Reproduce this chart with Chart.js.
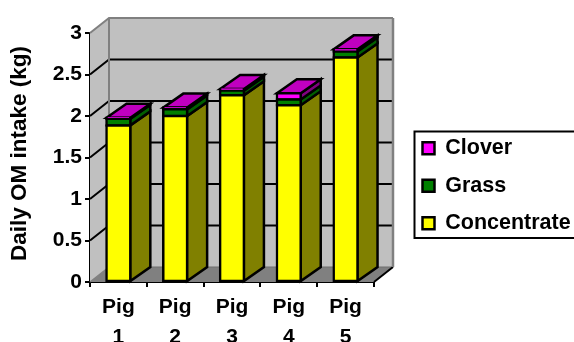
<!DOCTYPE html>
<html><head><meta charset="utf-8">
<style>html,body{margin:0;padding:0;background:#fff;overflow:hidden}#w{width:574px;height:342px}</style>
<script src="https://cdn.jsdelivr.net/npm/chart.js@4"></script></head>
<body><div id="w"><canvas id="c" width="574" height="342"></canvas></div>
<script>
const categories = [['Pig','1'],['Pig','2'],['Pig','3'],['Pig','4'],['Pig','5']];
const concentrate = [1.887, 2.0, 2.25, 2.13, 2.706];
const grass = [0.08, 0.08, 0.055, 0.07, 0.072];
const clover = [0.012, 0.021, 0.02, 0.075, 0.025];
const yTicks = [0, 0.5, 1, 1.5, 2, 2.5, 3];
const depthX = 19, depthY = 15, barDepthX = 20, barDepthY = 14;

const faces = [
  {side:'#808000', top:'#808000'},
  {side:'#005f00', top:'#005f00'},
  {side:'#800080', top:'#c000c0'}
];
function poly(ctx, pts, fill, stroke, lw){
  ctx.beginPath();
  pts.forEach((p,i)=> i ? ctx.lineTo(p[0],p[1]) : ctx.moveTo(p[0],p[1]));
  ctx.closePath();
  if(fill){ctx.fillStyle=fill;ctx.fill();}
  if(stroke){ctx.strokeStyle=stroke;ctx.lineWidth=lw;ctx.lineJoin='miter';ctx.stroke();}
}
function line(ctx, pts, c, lw){
  ctx.beginPath();
  pts.forEach((p,i)=> i ? ctx.lineTo(p[0],p[1]) : ctx.moveTo(p[0],p[1]));
  ctx.strokeStyle=c;ctx.lineWidth=lw;ctx.stroke();
}
const scene = {
  id:'scene',
  afterLayout(chart){
    const l = chart.legend;
    l.left = 406.5; l.right = 574; l.top = 121.5; l.bottom = 300;
    l.width = l.right-l.left; l.height = l.bottom-l.top;
    const s = chart.scales.y;
    if(!s._shifted){
      s._shifted = true;
      const orig = s.drawTitle;
      s.drawTitle = function(){ const c=this.ctx; c.save(); c.translate(0,-4); orig.call(this); c.restore(); };
    }
  },
  beforeDraw(chart){
    const ctx = chart.ctx;
    ctx.save();
    poly(ctx,[[414.5,131.5],[580,131.5],[580,238],[414.5,238]],'#fff','#000',2);
    ctx.restore();
  },
  beforeDatasetsDraw(chart){
    const ctx = chart.ctx, a = chart.chartArea, y = chart.scales.y;
    const L=a.left,R=a.right,T=a.top,B=a.bottom;
    ctx.save();
    poly(ctx,[[L+depthX,T-depthY],[R+depthX,T-depthY],[R+depthX,B-depthY],[L+depthX,B-depthY]],'#c0c0c0');
    poly(ctx,[[L,T],[L+depthX,T-depthY],[L+depthX,B-depthY],[L,B]],'#c0c0c0');
    poly(ctx,[[L,B],[L+depthX,B-depthY],[R+depthX,B-depthY],[R,B]],'#808080');
    yTicks.forEach(v=>{
      const p = y.getPixelForValue(v);
      if(v===0){
        line(ctx,[[L,p],[L+depthX,p-depthY]],'#808080',1.5);
        line(ctx,[[L+depthX,p-depthY],[R+depthX,p-depthY]],'#6e6e6e',1);
        line(ctx,[[R,p],[R+depthX,p-depthY]],'#000',2);
      } else if(v===3){
        line(ctx,[[L,p],[L+depthX,p-depthY],[R+depthX,p-depthY]],'#808080',2);
      } else {
        line(ctx,[[L,p],[L+depthX,p-depthY],[R+depthX,p-depthY]],'#000',2);
      }
    });
    line(ctx,[[L+depthX,T-depthY],[L+depthX,B-depthY]],'#808080',2);
    line(ctx,[[R+depthX,T-depthY],[R+depthX,B-depthY]],'#808080',2.5);
    chart.data.datasets.forEach((ds,di)=>{
      chart.getDatasetMeta(di).data.forEach((bar,i)=>{
        const p = bar.getProps(['x','y','base','width'],true);
        const r = p.x+p.width/2, lft = p.x-p.width/2;
        poly(ctx,[[r,p.y],[r+barDepthX,p.y-barDepthY],[r+barDepthX,p.base-barDepthY],[r,p.base]],faces[di].side,'#000',2.5);
        if(di===chart.data.datasets.length-1){
          poly(ctx,[[lft,p.y],[lft+barDepthX,p.y-barDepthY],[r+barDepthX,p.y-barDepthY],[r,p.y]],faces[di].top,'#000',2.5);
        }
      });
    });
    ctx.restore();
  }
};
const barStyle = {borderColor:'#000',borderWidth:2.5,borderSkipped:false,inflateAmount:1.25};
new Chart(document.getElementById('c'),{
  type:'bar',
  data:{labels:categories,datasets:[
    {label:'Concentrate',data:concentrate,backgroundColor:'#ffff00',...barStyle},
    {label:'Grass',data:grass,backgroundColor:'#008000',...barStyle},
    {label:'Clover',data:clover,backgroundColor:'#ff00ff',...barStyle}
  ]},
  options:{
    responsive:false,animation:false,
    layout:{padding:{left:0,top:33,right:200,bottom:0}},
    datasets:{bar:{barPercentage:0.42,categoryPercentage:1}},
    plugins:{
      tooltip:{enabled:false},
      legend:{position:'chartArea',align:'start',reverse:true,
        labels:{boxWidth:12,boxHeight:12,padding:16,color:'#000',font:{family:'"Liberation Sans"',size:21.5,weight:'bold'}}}
    },
    scales:{
      x:{stacked:true,
        afterFit(s){s.height=60;},
        grid:{drawOnChartArea:false,color:'#000',lineWidth:2,tickLength:5},
        border:{color:'#000',width:2},
        ticks:{color:'#000',maxRotation:0,autoSkip:false,padding:5,font:{family:'"Liberation Sans"',size:21,weight:'bold',lineHeight:1.45}}},
      y:{stacked:true,min:0,max:3,
        afterFit(s){s.width=90;},
        afterBuildTicks(s){s.ticks=yTicks.map(v=>({value:v}));},
        grid:{drawOnChartArea:false,color:'#000',lineWidth:2,tickLength:5},
        border:{color:'#000',width:2},
        ticks:{color:'#000',padding:3,callback:v=>String(v),font:{family:'"Liberation Sans"',size:21,weight:'bold'}},
        title:{display:true,text:'Daily OM intake (kg)',color:'#000',padding:{top:6,bottom:0},font:{family:'"Liberation Sans"',size:22.5,weight:'bold'}}}
    }
  },
  plugins:[scene]
});
</script></body></html>
